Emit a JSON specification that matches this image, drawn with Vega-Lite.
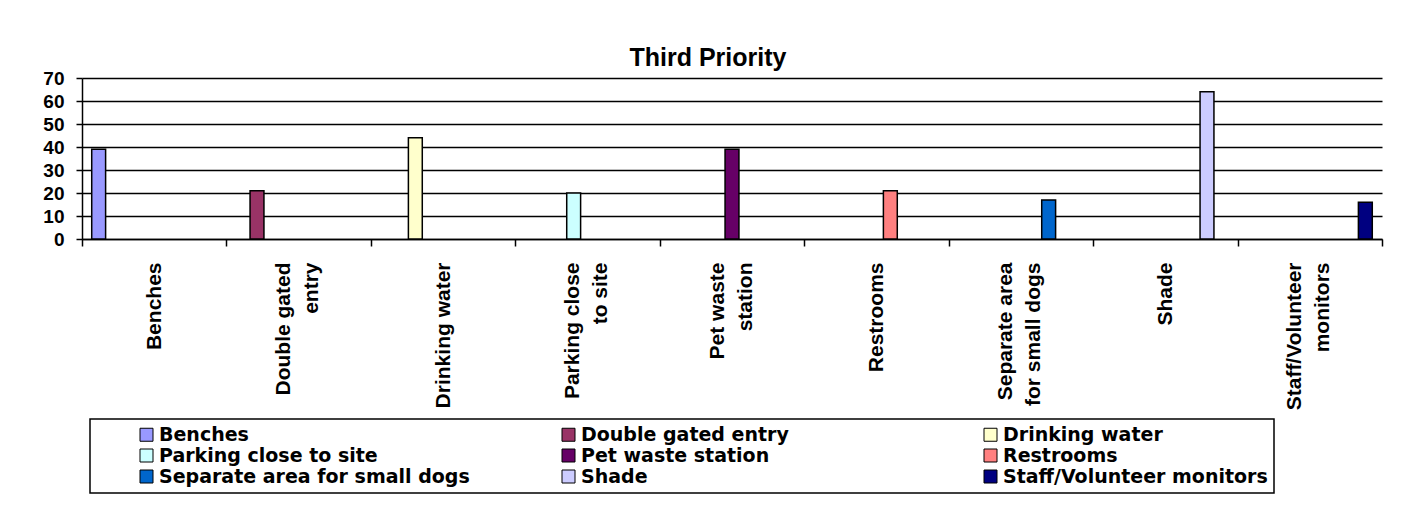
{
  "$schema": "https://vega.github.io/schema/vega-lite/v6.json",
  "width": 1300,
  "height": 161,
  "autosize": {"type": "none"},
  "padding": {"left": 82, "top": 78, "right": 36, "bottom": 267},
  "background": "white",
  "title": {
    "text": "Third Priority",
    "font": "Liberation Sans",
    "fontSize": 25,
    "fontWeight": "bold",
    "color": "black",
    "anchor": "middle",
    "dx": -24,
    "offset": -2
  },
  "data": {
    "values": [
      {"name": "Benches", "value": 39},
      {"name": "Double gated entry", "value": 21},
      {"name": "Drinking water", "value": 44},
      {"name": "Parking close to site", "value": 20},
      {"name": "Pet waste station", "value": 39},
      {"name": "Restrooms", "value": 21},
      {"name": "Separate area for small dogs", "value": 17},
      {"name": "Shade", "value": 64},
      {"name": "Staff/Volunteer monitors", "value": 16}
    ]
  },
  "mark": {"type": "bar", "stroke": "black", "strokeWidth": 1.5},
  "encoding": {
    "x": {
      "field": "name",
      "type": "nominal",
      "sort": null,
      "scale": {"paddingInner": 0, "paddingOuter": 0},
      "axis": {
        "title": null,
        "labelAngle": -90,
        "labelAlign": "right",
        "labelBaseline": "middle",
        "labelFont": "Liberation Sans",
        "labelFontSize": 21,
        "labelFontWeight": "bold",
        "labelColor": "black",
        "labelPadding": 16,
        "labelLineHeight": 28,
        "labelLimit": 0,
        "labelOverlap": false,
        "labelBound": false,
        "labelOffset": {
          "condition": {
            "test": "indexof(['Double gated entry', 'Parking close to site', 'Pet waste station', 'Separate area for small dogs', 'Staff/Volunteer monitors'], datum.value) >= 0",
            "value": -15
          },
          "value": 0
        },
        "labelExpr": "datum.label == 'Double gated entry' ? ['Double gated', 'entry'] : datum.label == 'Parking close to site' ? ['Parking close', 'to site'] : datum.label == 'Pet waste station' ? ['Pet waste', 'station'] : datum.label == 'Separate area for small dogs' ? ['Separate area', 'for small dogs'] : datum.label == 'Staff/Volunteer monitors' ? ['Staff/Volunteer', 'monitors'] : datum.label",
        "tickBand": "extent",
        "tickSize": 7,
        "tickColor": "black",
        "tickWidth": 1.5,
        "domainColor": "black",
        "domainWidth": 1.5,
        "grid": false
      }
    },
    "xOffset": {
      "field": "name",
      "type": "nominal",
      "sort": null,
      "scale": {"paddingInner": 0, "paddingOuter": 0.7}
    },
    "y": {
      "field": "value",
      "type": "quantitative",
      "scale": {"domain": [0, 70], "nice": false},
      "axis": {
        "title": null,
        "values": [0, 10, 20, 30, 40, 50, 60, 70],
        "labelFont": "Liberation Sans",
        "labelFontSize": 19,
        "labelFontWeight": "bold",
        "labelColor": "black",
        "labelPadding": 12,
        "tickSize": 6,
        "tickColor": "black",
        "tickWidth": 1.5,
        "domainColor": "black",
        "domainWidth": 1.5,
        "grid": true,
        "gridColor": "black",
        "gridWidth": 1.5,
        "gridOpacity": 1
      }
    },
    "color": {
      "field": "name",
      "type": "nominal",
      "sort": null,
      "scale": {
        "domain": ["Benches", "Double gated entry", "Drinking water", "Parking close to site", "Pet waste station", "Restrooms", "Separate area for small dogs", "Shade", "Staff/Volunteer monitors"],
        "range": ["#9999FF", "#993366", "#FFFFCC", "#CCFFFF", "#660066", "#FF8080", "#0066CC", "#CCCCFF", "#000080"]
      },
      "legend": {
        "title": null,
        "orient": "none",
        "legendX": 8,
        "legendY": 341,
        "columns": 3,
        "direction": "horizontal",
        "gridAlign": "all",
        "columnPadding": 48,
        "rowPadding": 1,
        "symbolType": "square",
        "symbolSize": 169,
        "symbolStrokeColor": "black",
        "symbolStrokeWidth": 1,
        "symbolOffset": 41,
        "labelFont": "DejaVu Sans",
        "labelFontSize": 19,
        "labelFontWeight": "bold",
        "labelColor": "black",
        "labelLimit": 0,
        "labelOffset": 3,
        "strokeColor": "black",
        "padding": 6,
        "fillColor": "white"
      }
    }
  },
  "config": {
    "view": {"stroke": null},
    "legend": {"strokeWidth": 1.5}
  }
}
